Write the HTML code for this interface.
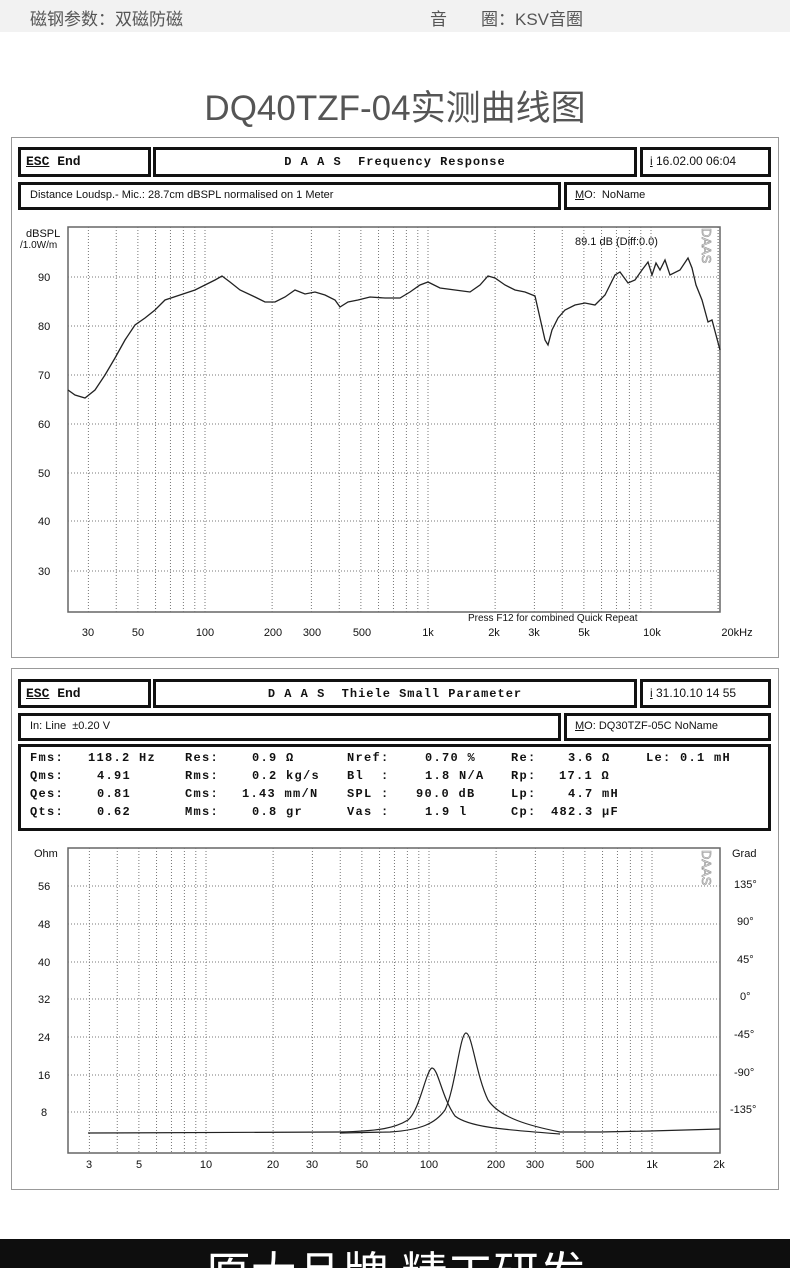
<!DOCTYPE html>
<html><head><meta charset="utf-8"><style>
*{margin:0;padding:0;box-sizing:border-box}
body{width:790px;height:1268px;background:#fff;position:relative;overflow:hidden;font-family:"Liberation Sans","Noto Sans CJK SC",sans-serif}
.a{position:absolute;white-space:pre}
.box{position:absolute;border:3px solid #111;background:#fff}
.m{font-family:"Liberation Mono",monospace;font-weight:bold;font-size:12px;color:#111}
.s{font-family:"Liberation Sans",sans-serif;font-size:11px;color:#111}
.frame{position:absolute;border:1px solid #999;background:#fff}
</style></head><body>
<div class="a" style="left:0;top:0;width:790px;height:32px;background:#f2f2f2"></div>
<div class="a" style="left:30px;top:5px;font-size:17px;color:#555">磁钢参数：双磁防磁</div>
<div class="a" style="left:430px;top:5px;font-size:17px;color:#555">音　　圈：KSV音圈</div>
<div class="a" style="left:0;width:790px;top:80px;text-align:center;font-size:35px;color:#555">DQ40TZF-04实测曲线图</div>

<div class="frame" style="left:11px;top:137px;width:768px;height:521px"></div>
<div class="box" style="left:18px;top:147px;width:133px;height:30px"></div>
<div class="a m" style="left:26px;top:154px;font-size:13px"><u>ESC</u> End</div>
<div class="box" style="left:153px;top:147px;width:484px;height:30px"></div>
<div class="a m" style="left:153px;width:484px;top:155px;text-align:center;letter-spacing:1px">D A A S  Frequency Response</div>
<div class="box" style="left:640px;top:147px;width:131px;height:30px"></div>
<div class="a s" style="left:650px;top:154px;font-size:12px"><u>i</u> 16.02.00 06:04</div>
<div class="box" style="left:18px;top:182px;width:543px;height:28px"></div>
<div class="a s" style="left:30px;top:189px">Distance Loudsp.- Mic.: 28.7cm dBSPL normalised on 1 Meter</div>
<div class="box" style="left:564px;top:182px;width:207px;height:28px"></div>
<div class="a s" style="left:575px;top:189px"><u>M</u>O:  NoName</div>

<div class="frame" style="left:11px;top:668px;width:768px;height:522px"></div>
<div class="box" style="left:18px;top:679px;width:133px;height:29px"></div>
<div class="a m" style="left:26px;top:686px;font-size:13px"><u>ESC</u> End</div>
<div class="box" style="left:153px;top:679px;width:484px;height:29px"></div>
<div class="a m" style="left:153px;width:484px;top:687px;text-align:center;letter-spacing:1px">D A A S  Thiele Small Parameter</div>
<div class="box" style="left:640px;top:679px;width:131px;height:29px"></div>
<div class="a s" style="left:650px;top:686px;font-size:12px"><u>i</u> 31.10.10 14 55</div>
<div class="box" style="left:18px;top:713px;width:543px;height:28px"></div>
<div class="a s" style="left:30px;top:720px">In: Line  ±0.20 V</div>
<div class="box" style="left:564px;top:713px;width:207px;height:28px"></div>
<div class="a s" style="left:575px;top:720px"><u>M</u>O: DQ30TZF-05C NoName</div>
<div class="box" style="left:18px;top:744px;width:753px;height:87px"></div>
<div id="params"></div>

<svg class="a" style="left:0;top:0" width="790" height="1268" id="sv">
<rect x="68" y="227" width="652" height="385" fill="none" stroke="#666" stroke-width="1.5"/>
<rect x="68" y="848" width="652" height="305" fill="none" stroke="#666" stroke-width="1.5"/>
<g id="grid" stroke="#777" stroke-width="1" stroke-dasharray="1,2"></g>
<g font-family="Liberation Sans,sans-serif" font-size="11" fill="#111">
<text x="26" y="237">dBSPL</text><text x="20" y="248" font-size="10">/1.0W/m</text>
<text x="38" y="281">90</text><text x="38" y="330">80</text><text x="38" y="379">70</text><text x="38" y="428">60</text><text x="38" y="477">50</text><text x="38" y="525">40</text><text x="38" y="575">30</text>
<g text-anchor="middle"><text x="88" y="636">30</text><text x="138" y="636">50</text><text x="205" y="636">100</text><text x="273" y="636">200</text><text x="312" y="636">300</text><text x="362" y="636">500</text><text x="428" y="636">1k</text><text x="494" y="636">2k</text><text x="534" y="636">3k</text><text x="584" y="636">5k</text><text x="652" y="636">10k</text><text x="737" y="636">20kHz</text></g>
<text x="575" y="245">89.1 dB (Diff:0.0)</text>
<text x="468" y="621" font-size="10">Press F12 for combined Quick Repeat</text>
<text x="34" y="857">Ohm</text><text x="38" y="890">56</text><text x="38" y="928">48</text><text x="38" y="966">40</text><text x="38" y="1003">32</text><text x="38" y="1041">24</text><text x="38" y="1079">16</text><text x="41" y="1116">8</text>
<text x="732" y="857">Grad</text><text x="734" y="888">135°</text><text x="737" y="925">90°</text><text x="737" y="963">45°</text><text x="740" y="1000">0°</text><text x="734" y="1038">-45°</text><text x="734" y="1076">-90°</text><text x="730" y="1113">-135°</text>
<g text-anchor="middle"><text x="89" y="1168">3</text><text x="139" y="1168">5</text><text x="206" y="1168">10</text><text x="273" y="1168">20</text><text x="312" y="1168">30</text><text x="362" y="1168">50</text><text x="429" y="1168">100</text><text x="496" y="1168">200</text><text x="535" y="1168">300</text><text x="585" y="1168">500</text><text x="652" y="1168">1k</text><text x="719" y="1168">2k</text></g>
<text transform="translate(702,228) rotate(90)" font-size="13" fill="none" stroke="#999" stroke-width="0.7">DAAS</text>
<text transform="translate(702,850) rotate(90)" font-size="13" fill="none" stroke="#999" stroke-width="0.7">DAAS</text>
</g>
<polyline fill="none" stroke="#222" stroke-width="1.3" points="68,390 75,395 85,398 95,390 105,375 115,358 125,340 135,325 145,318 155,310 165,300 180,295 195,290 205,285 215,280 222,276 230,282 240,290 255,297 265,302 275,302 285,297 295,290 305,294 315,292 325,295 335,300 340,307 348,302 358,300 370,297 385,298 400,298 410,292 420,285 428,282 440,288 455,290 470,292 480,285 488,276 495,278 505,285 515,290 525,292 535,296 540,318 545,340 548,345 552,330 558,318 565,310 575,305 585,303 595,305 605,295 615,275 620,272 628,283 635,280 642,270 648,262 652,275 656,263 660,270 665,260 670,275 680,270 688,258 692,268 696,285 702,300 708,322 712,320 716,335 720,350"/>
<path fill="none" stroke="#222" stroke-width="1.2" d="M88,1133 L340,1132 C380,1131 395,1128 408,1120 C420,1110 426,1070 432,1068 C438,1068 442,1098 455,1116 C470,1128 510,1130 560,1134"/>
<path fill="none" stroke="#222" stroke-width="1.2" d="M340,1133 L390,1132 C420,1130 435,1124 445,1110 C455,1090 460,1033 466,1033 C472,1033 476,1075 488,1100 C500,1118 530,1126 560,1132 L600,1132 L650,1131 L720,1129"/>
</svg>

<div class="a" style="left:0;top:1239px;width:790px;height:29px;background:#0e0e0e;overflow:hidden">
<div class="a" style="left:0;width:790px;top:10px;text-align:center;color:#fff;font-size:46px;line-height:50px">原大品牌 精工研发</div>
</div>
<script>
var g=document.getElementById('grid'),h='';
function X1(f){return 428+223*Math.log10(f/1000)}
function X2(f){return 652+223*Math.log10(f/1000)}
var fs=[];[10,100,1000,10000].forEach(function(d){for(var k=1;k<10;k++)fs.push(d*k)});fs.push(20000);
fs.forEach(function(f){var x=X1(f);if(x>69&&x<719)h+='<line x1="'+x+'" y1="227" x2="'+x+'" y2="612"/>'});
[277,326,375,424,473,521,571].forEach(function(y){h+='<line x1="68" y1="'+y+'" x2="720" y2="'+y+'"/>'});
var f2=[];[1,10,100,1000].forEach(function(d){for(var k=1;k<10;k++)f2.push(d*k)});
f2.forEach(function(f){var x=X2(f);if(x>69&&x<719)h+='<line x1="'+x+'" y1="848" x2="'+x+'" y2="1153"/>'});
[886,924,962,999,1037,1075,1112].forEach(function(y){h+='<line x1="68" y1="'+y+'" x2="720" y2="'+y+'"/>'});
g.innerHTML=h;
var rows=[[["Fms:",30],["118.2 Hz",88],["Res:",185],["0.9 Ω",252],["Nref:",347],["0.70 %",425],["Re:",511],["3.6 Ω",568],["Le: 0.1 mH",646]],
[["Qms:",30],["4.91",97],["Rms:",185],["0.2 kg/s",252],["Bl  :",347],["1.8 N/A",425],["Rp:",511],["17.1 Ω",559]],
[["Qes:",30],["0.81",97],["Cms:",185],["1.43 mm/N",242],["SPL :",347],["90.0 dB",416],["Lp:",511],["4.7 mH",568]],
[["Qts:",30],["0.62",97],["Mms:",185],["0.8 gr",252],["Vas :",347],["1.9 l",425],["Cp:",511],["482.3 µF",551]]];
var p='';rows.forEach(function(r,i){r.forEach(function(c){p+='<div class="a m" style="left:'+c[1]+'px;top:'+(751+i*18)+'px;letter-spacing:1.3px">'+c[0]+'</div>'})});
document.getElementById('params').innerHTML=p;
</script>
</body></html>
